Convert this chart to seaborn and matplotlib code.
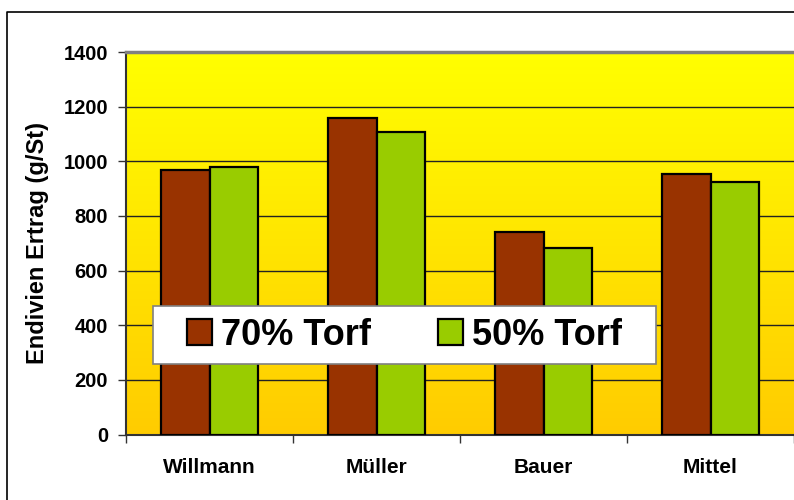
import numpy as np
import pandas as pd
import matplotlib.pyplot as plt
import seaborn as sns
from matplotlib.lines import Line2D
from matplotlib.patches import Rectangle

# data
sorten = ['Willmann', 'Müller', 'Bauer', 'Mittel']
torf_70 = [967, 1158, 740, 953]
torf_50 = [980, 1106, 682, 923]
serien = ['70% Torf', '50% Torf']
y_ticks = [0, 200, 400, 600, 800, 1000, 1200, 1400]

df = pd.DataFrame({
    'Sorte': sorten * 2,
    'Ertrag': torf_70 + torf_50,
    'Torf': [serien[0]] * len(sorten) + [serien[1]] * len(sorten),
})

sns.set_theme(style='white')
plt.rcParams['font.family'] = ['Liberation Sans', 'DejaVu Sans']
plt.rcParams['font.weight'] = 'bold'
plt.rcParams['text.color'] = 'black'
plt.rcParams['axes.labelcolor'] = 'black'
plt.rcParams['xtick.color'] = 'black'
plt.rcParams['ytick.color'] = 'black'

fig = plt.figure(figsize=(7.94, 5.0), dpi=100)
ax = fig.add_axes([126 / 794, 1 - 434.5 / 500, 668 / 794, 382.5 / 500])

# yellow -> orange gradient for the plot area
grad = np.linspace(0, 1, 256).reshape(-1, 1)
cmap = sns.blend_palette(['#FFFF00', '#FFCC00'], as_cmap=True)
ax.imshow(grad, cmap=cmap, aspect='auto', extent=[0, 1, 0, 1],
          transform=ax.transAxes, zorder=0)

sns.barplot(data=df, x='Sorte', y='Ertrag', hue='Torf',
            palette=['#993300', '#99CC00'], saturation=1,
            width=0.575, edgecolor='black', linewidth=1.6, ax=ax, zorder=3)

ax.set_xlim(-0.5, 3.5)
ax.set_ylim(0, 1400)
ax.set_yticks(y_ticks)
ax.set_yticklabels([str(t) for t in y_ticks], fontsize=14.5, fontweight='bold')
ax.set_xticks(range(len(sorten)))
ax.set_xticklabels(sorten, fontsize=15, fontweight='bold')
ax.set_xticks(np.arange(-0.5, 3.6, 1), minor=True)
ax.tick_params(axis='x', which='major', length=0, pad=17)
ax.tick_params(axis='x', which='minor', length=6, width=1, color='#333333',
               direction='out', bottom=True)
ax.tick_params(axis='y', length=6, width=1, color='#333333', pad=7, left=True)

for y in y_ticks[1:-1]:
    ax.axhline(y, color='#222222', lw=1, zorder=1)

ax.set_xlabel('')
ax.set_ylabel('Endivien Ertrag (g/St)', fontsize=17, fontweight='bold', labelpad=10)

for side in ['left', 'bottom']:
    ax.spines[side].set_color('#333333')
    ax.spines[side].set_linewidth(1.5)
ax.spines['top'].set_color('#808080')
ax.spines['top'].set_linewidth(2.5)
ax.spines['right'].set_visible(False)

# white legend box
box = (0.040, 0.184, 0.754, 0.152)
ax.add_patch(Rectangle(box[:2], box[2], box[3], transform=ax.transAxes,
                       facecolor='white', edgecolor='#808080', lw=1.2,
                       zorder=5, clip_on=False))

handles, labels = ax.get_legend_handles_labels()
leg = ax.legend(handles, labels, loc='center', ncol=2,
                bbox_to_anchor=(box[0] + box[2] / 2, box[1] + box[3] / 2),
                prop={'weight': 'bold', 'size': 26},
                handlelength=0.7, handleheight=0.7, handletextpad=0.25,
                columnspacing=1.85, frameon=False)
leg.set_zorder(6)

# outer chart frame
fig.add_artist(Line2D([7 / 794, 7 / 794, 1.01], [-0.01, 1 - 12 / 500, 1 - 12 / 500],
                      color='black', lw=1.2, transform=fig.transFigure))

fig.savefig('out.png', dpi=100)
